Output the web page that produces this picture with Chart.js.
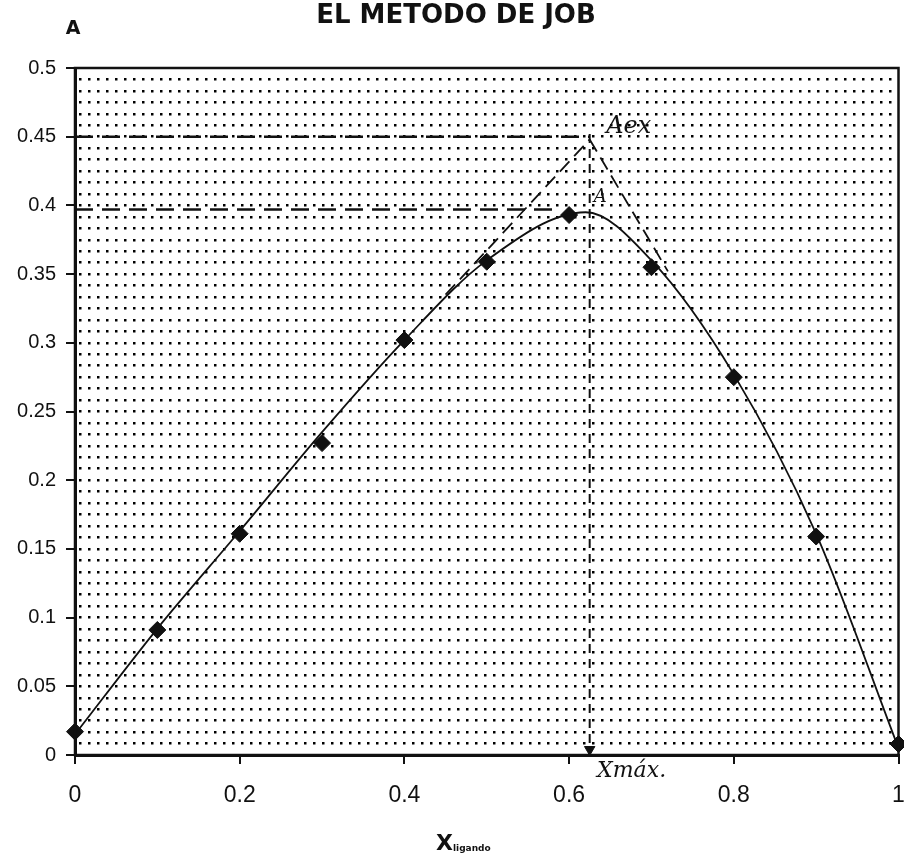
<!DOCTYPE html>
<html lang="es">
<head>
  <meta charset="UTF-8" />
  <title>El metodo de Job</title>
  <script src="https://cdn.jsdelivr.net/npm/chart.js@4.4.1/dist/chart.umd.min.js"></script>
  <style>
    html,body{ margin:0; padding:0; background:#fff; overflow:hidden; }
    /* a few px wider than the window so the right frame lands where the scan has it */
    .wrap    { width:908px; height:853px; position:relative; }
  </style>
</head>
<body>
  <div class="wrap"><canvas id="job"></canvas></div>

  <script>
    /* ---- data ---- */
    const xFraction = [0, 0.1, 0.2, 0.3, 0.4, 0.5, 0.6, 0.7, 0.8, 0.9, 1.0];
    const absorb    = [0.017, 0.091, 0.161, 0.227, 0.302, 0.359, 0.393, 0.355, 0.275, 0.159, 0.008];

    // fitted curve (hand drawn in the original)
    const curveX = [0, 0.1, 0.2, 0.3, 0.4, 0.5, 0.62, 0.7, 0.8, 0.9, 1.0];
    const curveY = [0.015, 0.092, 0.163, 0.235, 0.302, 0.36, 0.395, 0.36, 0.277, 0.161, 0.005];

    // construction lines: [x0, y0, x1, y1]
    const lineAex   = [0, 0.45, 0.625, 0.45];
    const lineA     = [0, 0.397, 0.59, 0.397];
    const tanLeft   = [0.45, 0.335, 0.625, 0.448];
    const tanRight  = [0.625, 0.448, 0.72, 0.352];
    const vertXmax  = [0.625, 0.452, 0.625, 0.004];

    const xTicks      = [0, 0.2, 0.4, 0.6, 0.8, 1];
    const xTickLabels = ["0", "0.2", "0.4", "0.6", "0.8", "1"];
    const yTicks      = [0, 0.05, 0.1, 0.15, 0.2, 0.25, 0.3, 0.35, 0.4, 0.45, 0.5];
    const yTickLabels = ["0", "0.05", "0.1", "0.15", "0.2", "0.25", "0.3", "0.35", "0.4", "0.45", "0.5"];
    const gridRows    = 60;   // dotted rows of the paper, 0..0.5

    /* ---- helpers ---- */
    const pts  = (xs, ys) => xs.map((x, i) => ({ x, y: ys[i] }));
    const seg  = s => [{ x: s[0], y: s[1] }, { x: s[2], y: s[3] }];
    const dash = (data, d, w) => ({
      data, borderColor: "#111", borderWidth: w || 2, borderDash: d,
      pointRadius: 0, fill: false, tension: 0
    });

    /* ---- handwritten notes + border ---- */
    const notes = {
      id: "notes",
      afterDraw(chart) {
        const { ctx, chartArea: a, scales: { x, y } } = chart;
        ctx.save();
        ctx.strokeStyle = "#111"; ctx.lineWidth = 2.5;
        ctx.strokeRect(a.left, a.top, a.right - a.left, a.bottom - a.top);

        ctx.fillStyle = "#111";
        ctx.textBaseline = "middle";
        ctx.textAlign = "center";
        ctx.font = "bold 26px 'DejaVu Sans', sans-serif";
        ctx.fillText("EL METODO DE JOB", 456, 16);

        ctx.font = "bold 19px 'DejaVu Sans', sans-serif";
        ctx.fillText("A", 73, 29);

        ctx.textAlign = "left";
        ctx.font = "bold 22px 'DejaVu Sans', sans-serif";
        ctx.fillText("X", 436, 844);
        ctx.font = "bold 9px 'DejaVu Sans', sans-serif";
        ctx.fillText("ligando", 453, 849);

        ctx.font = "italic 24px 'DejaVu Serif', serif";
        ctx.fillText("Aex", x.getPixelForValue(0.645), y.getPixelForValue(0.457));
        ctx.font = "italic 18px 'DejaVu Serif', serif";
        ctx.fillText("A", x.getPixelForValue(0.63), y.getPixelForValue(0.406));
        ctx.font = "italic 22px 'DejaVu Serif', serif";
        ctx.fillText("Xmáx.", x.getPixelForValue(0.634), y.getPixelForValue(-0.012));
        ctx.restore();
      }
    };

    new Chart(document.getElementById("job"), {
      type: "line",
      data: {
        datasets: [
          { data: pts(curveX, curveY), borderColor: "#111", borderWidth: 1.8,
            pointRadius: 0, cubicInterpolationMode: "monotone", fill: false },
          { data: pts(xFraction, absorb), showLine: false, pointStyle: "rectRot",
            pointRadius: 8.5, backgroundColor: "#111", borderColor: "#111", clip: false },
          dash(seg(lineAex), [18, 9], 2.5),
          dash(seg(lineA), [18, 9], 2.5),
          dash(seg(tanLeft), [14, 7], 1.8),
          dash(seg(tanRight), [14, 7], 1.8),
          dash(seg(vertXmax), [9, 6], 2),
          { data: [{ x: vertXmax[2], y: vertXmax[3] }], showLine: false,
            pointStyle: "triangle", rotation: 180, pointRadius: 6,
            backgroundColor: "#111", borderColor: "#111" }
        ]
      },
      options: {
        responsive: true,
        maintainAspectRatio: false,
        animation: false,
        devicePixelRatio: 1,
        layout: { padding: { top: 68, right: 1, left: 0, bottom: 0 } },
        plugins: { legend: { display: false }, title: { display: false }, tooltip: { enabled: false } },
        scales: {
          x: {
            type: "linear", min: 0, max: 1,
            afterBuildTicks: s => { s.ticks = xTicks.map(v => ({ value: v })); },
            afterFit: s => { s.height = 98; s.paddingLeft = 0; s.paddingRight = 0; },
            ticks: {
              callback: (v) => xTickLabels[xTicks.indexOf(v)] ?? "",
              color: "#111", padding: 18, maxRotation: 0,
              font: { family: "'Liberation Sans', Arial, sans-serif", size: 23 }
            },
            grid: { drawOnChartArea: false, tickLength: 9, color: "#111", lineWidth: 2 },
            border: { color: "#111", width: 3 }
          },
          y: {
            type: "linear", min: 0, max: 0.5,
            afterBuildTicks: s => { s.ticks = yTicks.map(v => ({ value: v })); },
            afterFit: s => { s.width = 75; },
            ticks: {
              callback: (v) => yTickLabels[yTicks.indexOf(v)] ?? "",
              color: "#111", padding: 10,
              font: { family: "'Liberation Sans', Arial, sans-serif", size: 20 }
            },
            grid: { drawOnChartArea: false, tickLength: 9, color: "#111", lineWidth: 2 },
            border: { color: "#111", width: 3 }
          },
          paper: {
            type: "linear", position: "left", min: 0, max: 0.5,
            afterBuildTicks: s => {
              s.ticks = [];
              for (let i = 1; i < gridRows; i++) s.ticks.push({ value: i * 0.5 / gridRows });
            },
            afterFit: s => { s.width = 0; },
            ticks: { display: false },
            grid: { drawTicks: false, color: "#000", lineWidth: 2.5 },
            border: { display: false, dash: [2.5, 6.5], dashOffset: -4 }
          }
        }
      },
      plugins: [notes]
    });
  </script>
</body>
</html>
